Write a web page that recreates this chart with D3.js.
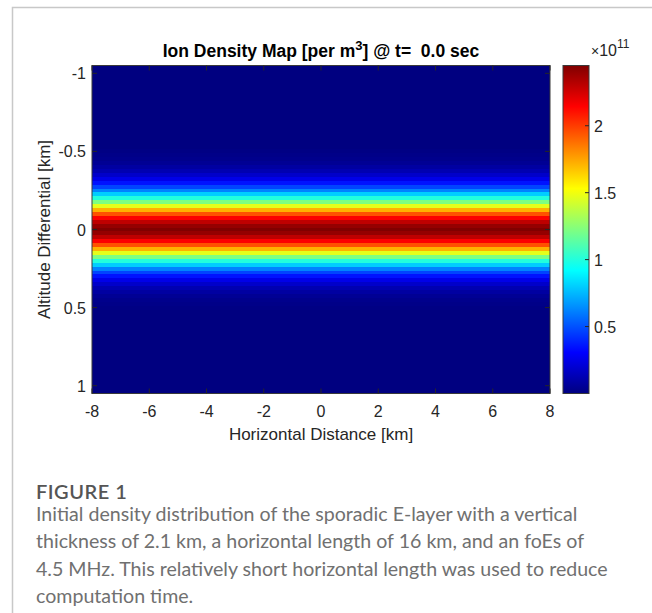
<!DOCTYPE html>
<html>
<head>
<meta charset="utf-8">
<script src="https://cdn.jsdelivr.net/npm/d3@7"></script>
<style>
  body { margin: 0; background: #fff; }
  svg { display: block; }
</style>
</head>
<body>
<svg width="652" height="613"></svg>
<script>
// Altitude rows [km] (row centres, 0.025 km grid)
var altitudes = [
  -1.05, -1.025, -1.0, -0.975, -0.95, -0.925, -0.9, -0.875, -0.85, -0.825, -0.8, -0.775, -0.75, -0.725, -0.7,
  -0.675, -0.65, -0.625, -0.6, -0.575, -0.55, -0.525, -0.5, -0.475, -0.45, -0.425, -0.4, -0.375, -0.35, -0.325,
  -0.3, -0.275, -0.25, -0.225, -0.2, -0.175, -0.15, -0.125, -0.1, -0.075, -0.05, -0.025, 0,
  0.025, 0.05, 0.075, 0.1, 0.125, 0.15, 0.175, 0.2, 0.225, 0.25, 0.275, 0.3, 0.325, 0.35, 0.375, 0.4, 0.425,
  0.45, 0.475, 0.5, 0.525, 0.55, 0.575, 0.6, 0.625, 0.65, 0.675, 0.7, 0.725, 0.75, 0.775, 0.8, 0.825, 0.85,
  0.875, 0.9, 0.925, 0.95, 0.975, 1.0, 1.025, 1.05
];

// Ion density for each row [x 1e11 per m^3], uniform along horizontal distance
var densities = [
  0, 0, 0, 0, 0, 0, 0, 0, 0, 0, 0, 0, 0, 0, 0, 0, 0, 0, 0, 0, 0, 0,
  0.01, 0.02, 0.03, 0.05, 0.08, 0.12, 0.18, 0.25, 0.35, 0.47, 0.62, 0.80, 1.00, 1.22, 1.47, 1.72, 1.95, 2.15, 2.30, 2.40,
  2.45,
  2.40, 2.30, 2.15, 1.95, 1.72, 1.47, 1.22, 1.00, 0.80, 0.62, 0.47, 0.35, 0.25, 0.18, 0.12, 0.08, 0.05, 0.03, 0.02, 0.01,
  0, 0, 0, 0, 0, 0, 0, 0, 0, 0, 0, 0, 0, 0, 0, 0, 0, 0, 0, 0, 0, 0
];

var xTicks = [-8, -6, -4, -2, 0, 2, 4, 6, 8];
var yTicks = [-1, -0.5, 0, 0.5, 1];
var cbTicks = [0.5, 1, 1.5, 2];
var xExtent = [-8, 8];
var yExtent = [-1.05, 1.05];
var densityExtent = [0, 2.45];
var rowStep = 0.025;

var captionTitle = 'FIGURE 1';
var captionLines = [
  'Initial density distribution of the sporadic E-layer with a vertical',
  'thickness of 2.1 km, a horizontal length of 16 km, and an foEs of',
  '4.5 MHz. This relatively short horizontal length was used to reduce',
  'computation time.'
];

var svg = d3.select('svg');
var plot = {l: 92, r: 550, t: 65.5, b: 393.5};
var cb = {l: 563, r: 589};
var ink = '#262626';
var font = '"Liberation Sans", Arial, sans-serif';
var capFont = 'Lato, "Open Sans", sans-serif';

// MATLAB style jet colormap
function jet(t) {
    t = Math.max(0, Math.min(1, t));
    function c(x) { return Math.max(0, Math.min(1, x)); }
    var r = c(Math.min(4 * t - 1.5, -4 * t + 4.5));
    var g = c(Math.min(4 * t - 0.5, -4 * t + 3.5));
    var b = c(Math.min(4 * t + 0.5, -4 * t + 2.5));
    return d3.rgb(r * 255, g * 255, b * 255).toString();
}

var xScale = d3.scaleLinear().domain(xExtent).range([plot.l, plot.r]);
var yScale = d3.scaleLinear().domain(yExtent).range([plot.t, plot.b]);
var colorScale = d3.scaleSequential(jet).domain(densityExtent);
var cbScale = d3.scaleLinear().domain(densityExtent).range([plot.b, plot.t]);

// outer figure frame
svg.append('path')
    .attr('d', 'M12.5,613 V7.5 H652')
    .attr('fill', 'none')
    .attr('stroke', '#c8c8c8')
    .attr('stroke-width', 1.5);

// heat map rows
svg.append('clipPath').attr('id', 'clip')
    .append('rect')
    .attr('x', plot.l).attr('y', plot.t)
    .attr('width', plot.r - plot.l).attr('height', plot.b - plot.t);

var rows = altitudes.map(function(z, i) { return {z: z, v: densities[i]}; });

svg.append('g')
    .attr('clip-path', 'url(#clip)')
    .selectAll('rect')
    .data(rows)
    .enter()
    .append('rect')
    .attr('x', xScale(xExtent[0]))
    .attr('width', xScale(xExtent[1]) - xScale(xExtent[0]))
    .attr('y', function(d) { return yScale(d.z - rowStep / 2); })
    .attr('height', function(d) { return yScale(d.z + rowStep / 2) - yScale(d.z - rowStep / 2) + 0.5; })
    .attr('fill', function(d) { return colorScale(d.v); })
    .attr('shape-rendering', 'crispEdges');

// axes box with inner ticks
var axG = svg.append('g').attr('stroke', ink).attr('stroke-width', 1);
axG.append('rect')
    .attr('x', plot.l).attr('y', plot.t)
    .attr('width', plot.r - plot.l).attr('height', plot.b - plot.t)
    .attr('fill', 'none').attr('stroke', '#3a3a3a');

xTicks.forEach(function(t) {
    var x = xScale(t);
    axG.append('line').attr('x1', x).attr('x2', x).attr('y1', plot.b).attr('y2', plot.b - 5);
    axG.append('line').attr('x1', x).attr('x2', x).attr('y1', plot.t).attr('y2', plot.t + 5);
});
yTicks.forEach(function(t) {
    var y = yScale(t);
    axG.append('line').attr('x1', plot.l).attr('x2', plot.l + 5).attr('y1', y).attr('y2', y);
    axG.append('line').attr('x1', plot.r).attr('x2', plot.r - 5).attr('y1', y).attr('y2', y);
});

svg.append('g')
    .selectAll('text')
    .data(xTicks)
    .enter()
    .append('text')
    .attr('x', function(d) { return xScale(d); })
    .attr('y', 417)
    .attr('text-anchor', 'middle')
    .attr('font-family', font).attr('font-size', 16).attr('fill', ink)
    .text(function(d) { return d; });

svg.append('g')
    .selectAll('text')
    .data(yTicks)
    .enter()
    .append('text')
    .attr('x', 86)
    .attr('y', function(d) { return yScale(d) + 6; })
    .attr('text-anchor', 'end')
    .attr('font-family', font).attr('font-size', 16).attr('fill', ink)
    .text(function(d) { return d; });

// axis labels and title
svg.append('text')
    .attr('x', (plot.l + plot.r) / 2).attr('y', 440)
    .attr('text-anchor', 'middle')
    .attr('font-family', font).attr('font-size', 17).attr('fill', ink)
    .text('Horizontal Distance [km]');

svg.append('text')
    .attr('transform', 'translate(50,' + ((plot.t + plot.b) / 2) + ') rotate(-90)')
    .attr('text-anchor', 'middle')
    .attr('font-family', font).attr('font-size', 17).attr('fill', ink)
    .text('Altitude Differential [km]');

var title = svg.append('text')
    .attr('x', (plot.l + plot.r) / 2).attr('y', 57)
    .attr('text-anchor', 'middle')
    .attr('font-family', font).attr('font-size', 17.5).attr('font-weight', 'bold')
    .attr('fill', '#000')
    .attr('xml:space', 'preserve');
title.append('tspan').text('Ion Density Map [per m');
title.append('tspan').attr('dy', -7).attr('font-size', 13).text('3');
title.append('tspan').attr('dy', 7).text('] @ t=  0.0 sec');

// colorbar
var defs = svg.append('defs');
var grad = defs.append('linearGradient').attr('id', 'jetGrad')
    .attr('x1', 0).attr('y1', 1).attr('x2', 0).attr('y2', 0);
d3.range(0, 1.0001, 0.0625).forEach(function(t) {
    grad.append('stop').attr('offset', t).attr('stop-color', jet(t));
});
svg.append('rect')
    .attr('x', cb.l).attr('y', cbScale(densityExtent[1]))
    .attr('width', cb.r - cb.l).attr('height', cbScale(densityExtent[0]) - cbScale(densityExtent[1]))
    .attr('fill', 'url(#jetGrad)')
    .attr('stroke', '#3a3a3a').attr('stroke-width', 1);

cbTicks.forEach(function(t) {
    svg.append('line')
        .attr('x1', cb.r).attr('x2', cb.r - 4)
        .attr('y1', cbScale(t)).attr('y2', cbScale(t))
        .attr('stroke', ink);
});
svg.append('g')
    .selectAll('text')
    .data(cbTicks)
    .enter()
    .append('text')
    .attr('x', 594)
    .attr('y', function(d) { return cbScale(d) + 6; })
    .attr('font-family', font).attr('font-size', 16).attr('fill', ink)
    .text(function(d) { return d; });

var expo = svg.append('text')
    .attr('x', 591).attr('y', 56)
    .attr('font-family', font).attr('font-size', 16).attr('fill', ink);
expo.append('tspan').attr('font-size', 14).text('\u00d7');
expo.append('tspan').text('10');
expo.append('tspan').attr('dy', -8).attr('font-size', 12).text('11');

// caption
svg.append('text')
    .attr('x', 36).attr('y', 499)
    .attr('font-family', capFont).attr('font-size', 20)
    .attr('font-weight', 600).attr('fill', '#555')
    .attr('letter-spacing', 0.5)
    .text(captionTitle);

svg.append('g')
    .selectAll('text')
    .data(captionLines)
    .enter()
    .append('text')
    .attr('x', 36)
    .attr('y', function(d, i) { return 521 + i * 27.3; })
    .attr('font-family', capFont).attr('font-size', 19.6)
    .attr('font-weight', 400).attr('fill', '#707070')
    .text(function(d) { return d; });
</script>
</body>
</html>
